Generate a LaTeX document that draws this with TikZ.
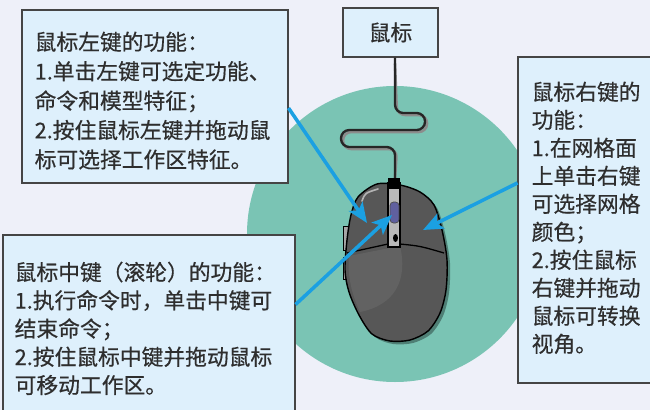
\documentclass[tikz,border=0pt]{standalone}
\usepackage{fontspec}
\newfontfamily\cjk{Noto Sans CJK SC}[FakeBold=0.5]
\usetikzlibrary{arrows.meta}

\definecolor{bgpaper}{HTML}{EEF0F9}
\definecolor{boxfill}{HTML}{DEF0FC}
\definecolor{boxline}{HTML}{454545}
\definecolor{padteal}{HTML}{7AC4B4}
\definecolor{pointer}{HTML}{1BA0E2}
\definecolor{shell}{HTML}{575757}
\definecolor{inktext}{HTML}{2E2E2E}

\begin{document}
\begin{tikzpicture}[x=0.85pt,y=-0.85pt,
  infobox/.style={draw=boxline,fill=boxfill,line width=0.9pt,inner sep=0pt},
  infotext/.style={anchor=north west,align=left,inner sep=0pt,text=inktext,
    font={\cjk\fontsize{18.5pt}{25pt}\selectfont}},
  pointerarrow/.style={draw=pointer,line width=3pt,-{Stealth[length=17pt,width=14pt,inset=4pt]}}]
  \useasboundingbox (0,0) rectangle (650,410);
  \clip (0,0) rectangle (650,410);
  \fill[bgpaper] (0,0) rectangle (650,410);
  \fill[padteal] (395,234) circle[radius=148];

  % title box and cable
  \node[infobox,minimum width=80.75pt,minimum height=41.65pt,text=inktext,
    font={\cjk\fontsize{18.5pt}{25pt}\selectfont}] (title) at (390.5,32.5) {鼠标};
  \coordinate (plug) at (395,178);
  \draw[black!45,line width=2.2pt,rounded corners=7pt,shift={(2,2)}]
    (title.south -| plug) ++(0,6) -- (395,113) -- (425,113) -- (425,130) -- (341,130)
    -- (341,147) -- (395,147) -- (plug);
  \draw[black!85,line width=2pt,rounded corners=7pt]
    (title.south -| plug) -- (395,113) -- (425,113) -- (425,130) -- (341,130)
    -- (341,147) -- (395,147) -- (plug);

  % side buttons
  \draw[black,fill=gray!70,line width=0.8pt] (343,226) rectangle (351,250);
  \draw[black,fill=gray!70,line width=0.8pt] (343,257) rectangle (351,279);

  % mouse shadow and body
  \fill[black,opacity=0.35,shift={(3,3)}] plot[smooth cycle] coordinates {
    (377,184) (400,185) (420,192) (434,205) (442,230) (447,260) (446,290)
    (440,313) (428,331) (410,340) (390,341) (372,334) (359,315) (349,292)
    (345,270) (347,240) (351,215) (358,197)};
  \draw[black,fill=shell,line width=1.2pt] plot[smooth cycle] coordinates {
    (377,184) (400,185) (420,192) (434,205) (442,230) (447,260) (446,290)
    (440,313) (428,331) (410,340) (390,341) (372,334) (359,315) (349,292)
    (345,270) (347,240) (351,215) (358,197)};
  \fill[white,opacity=0.07] (349,256) -- (400,246) .. controls (408,280) and (395,305) .. (360,312)
    .. controls (352,295) and (347,275) .. (349,256);
  \draw[white,opacity=0.55,line width=1.4pt,line cap=round] (362,201) .. controls (365,193) .. (378,189);

  % buttons seam
  \draw[black,line width=1.1pt] (347,253) -- (388,244);
  \draw[black,line width=1.1pt] (400,244) .. controls (420,246) .. (444,253);

  % scroll strip, wheel and plug
  \draw[black,fill=gray!55,line width=0.9pt] (388,183) rectangle (400,247);
  \draw[black!70,fill=blue!25!gray,rounded corners=3pt,line width=0.6pt] (390,202) rectangle (399,223);
  \fill[black] (395.5,238) ellipse[x radius=2.5,y radius=4];
  \fill[black] (388,178) rectangle (400,189);

  % info boxes
  \node[infobox,minimum width=226.1pt,minimum height=147.05pt] (lbox) at (155,96.5) {};
  \node[infotext] (ltext) at ([shift={(13,22)}]lbox.north west)
    {鼠标左键的功能：\\1.单击左键可选定功能、\\命令和模型特征；\\2.按住鼠标左键并拖动鼠\\标可选择工作区特征。};
  \node[infobox,minimum width=248.2pt,minimum height=155.55pt] (bbox) at (149,326.5) {};
  \node[infotext,font={\cjk\fontsize{18.5pt}{24pt}\selectfont}] (btext) at ([shift={(12,27)}]bbox.north west)
    {鼠标中键（滚轮）的功能：\\1.执行命令时，单击中键可\\结束命令；\\2.按住鼠标中键并拖动鼠标\\可移动工作区。};
  \node[infobox,minimum width=120.7pt,minimum height=277.1pt] (rbox) at (589,220) {};
  \node[infotext,font={\cjk\fontsize{18.5pt}{23.8pt}\selectfont}] (rtext) at ([shift={(14,25)}]rbox.north west)
    {鼠标右键的\\功能：\\1.在网格面\\上单击右键\\可选择网格\\颜色；\\2.按住鼠标\\右键并拖动\\鼠标可转换\\视角。};

  % pointers
  \coordinate (ltip) at (367,223);
  \coordinate (mtip) at (392,215);
  \coordinate (rtip) at (423,230);
  \draw[pointerarrow] ([yshift=-9.8pt]lbox.east) -- (ltip);
  \draw[pointerarrow] ([yshift=18.7pt]bbox.east) -- (mtip);
  \draw[pointerarrow] ([yshift=31.5pt]rbox.west) -- (rtip);
\end{tikzpicture}
\end{document}
